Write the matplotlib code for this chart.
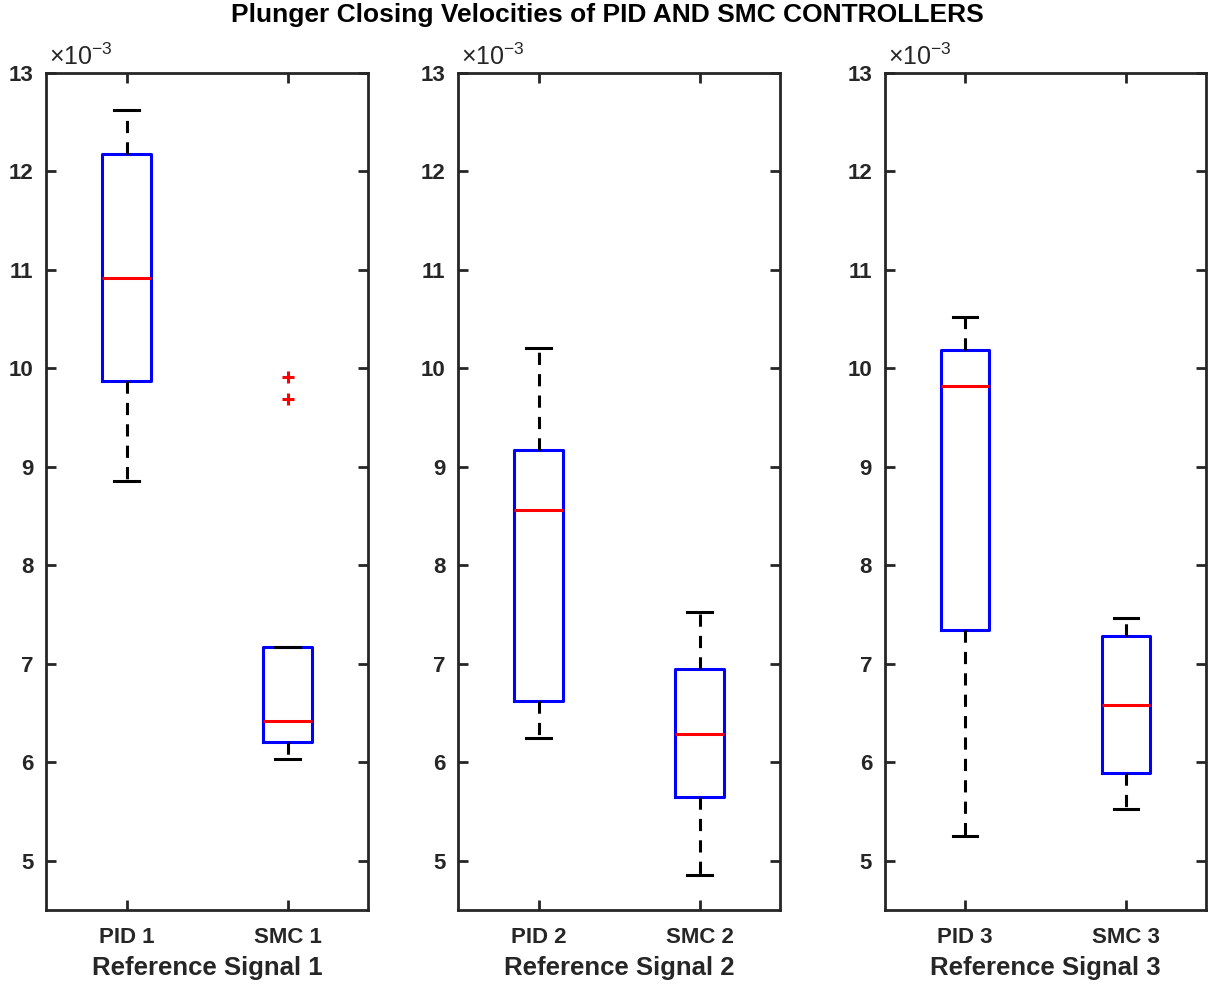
import matplotlib.pyplot as plt

plt.rcParams['font.family'] = ['Liberation Sans', 'DejaVu Sans']
plt.rcParams['mathtext.fontset'] = 'custom'
plt.rcParams['mathtext.rm'] = 'Liberation Sans'
plt.rcParams['mathtext.default'] = 'regular'

# box statistics, values in units of 1e-3
labels = [["PID 1", "SMC 1"], ["PID 2", "SMC 2"], ["PID 3", "SMC 3"]]
xlabels = ["Reference Signal 1", "Reference Signal 2", "Reference Signal 3"]
whislo = [[8.86, 6.03], [6.25, 4.86], [5.25, 5.53]]
q1 = [[9.875, 6.21], [6.62, 5.65], [7.34, 5.89]]
med = [[10.92, 6.415], [8.56, 6.29], [9.82, 6.58]]
q3 = [[12.18, 7.17], [9.17, 6.95], [10.19, 7.28]]
whishi = [[12.62, 7.17], [10.21, 7.53], [10.52, 7.46]]
fliers = [[[], [9.91, 9.69]], [[], []], [[], []]]

ink = "#262626"
fig = plt.figure(figsize=(12.15, 9.86), dpi=100)
lefts = [0.0379, 0.377, 0.728]

for k in range(3):
    ax = fig.add_axes([lefts[k], 0.0771, 0.265, 0.849])
    stats = []
    for j in range(2):
        stats.append(dict(whislo=whislo[k][j], q1=q1[k][j], med=med[k][j],
                          q3=q3[k][j], whishi=whishi[k][j],
                          fliers=fliers[k][j], label=labels[k][j]))
    ax.bxp(stats, positions=[1, 2], widths=0.3, showfliers=True,
           boxprops=dict(color="blue", linewidth=2.2),
           medianprops=dict(color="red", linewidth=2.2),
           whiskerprops=dict(color="black", linewidth=2.2, linestyle=(0, (4, 3))),
           capprops=dict(color="black", linewidth=2.2),
           capwidths=0.15,
           flierprops=dict(marker="+", markeredgecolor="red", markersize=9,
                           markeredgewidth=2.2))
    ax.set_xlim(0.5, 2.5)
    ax.set_ylim(4.5, 13)
    ax.set_yticks(range(5, 14))
    ax.tick_params(direction="in", length=7, width=2, colors=ink,
                   labelsize=16, top=True, right=True, pad=9)
    ax.tick_params(axis="x", pad=12)
    for t in ax.get_xticklabels() + ax.get_yticklabels():
        t.set_fontweight("bold")
    for s in ax.spines.values():
        s.set_linewidth(2)
        s.set_color(ink)
    ax.set_xlabel(xlabels[k], fontsize=18.5, fontweight="bold", color=ink, labelpad=6)
    ax.text(0.01, 1.003, r"$\times10^{-3}$", transform=ax.transAxes,
            fontsize=18, color=ink, ha="left", va="bottom")

fig.suptitle("Plunger Closing Velocities of PID AND SMC CONTROLLERS",
             fontsize=19, fontweight="bold", color="black", y=0.997)

fig.savefig("out.png", dpi=100)
